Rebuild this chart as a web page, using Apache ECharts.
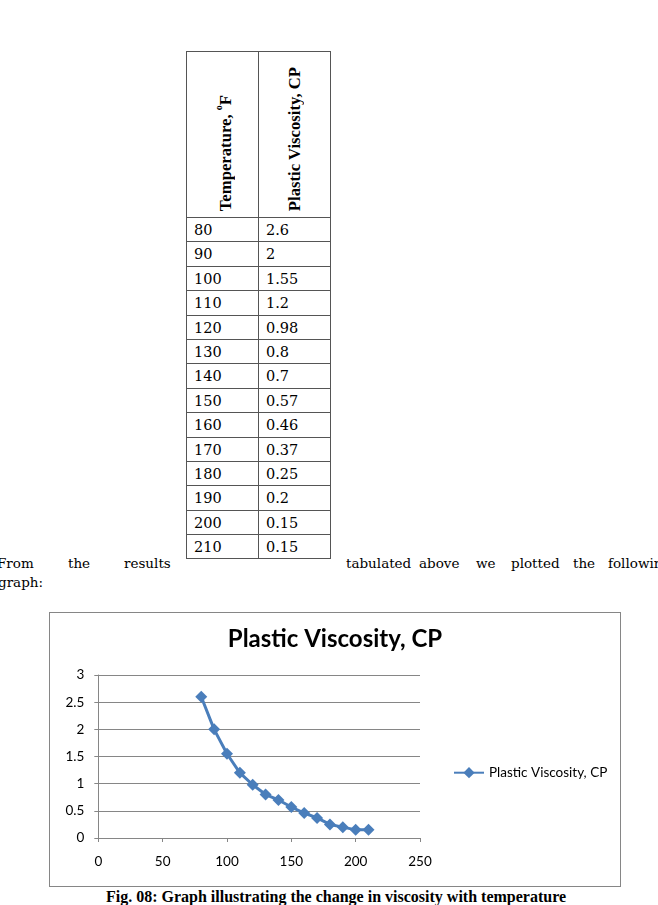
<!DOCTYPE html>
<html>
<head>
<meta charset="utf-8">
<script src="https://cdn.jsdelivr.net/npm/echarts@6/dist/echarts.min.js"></script>
<style>
  html, body { margin:0; padding:0; background:#fff; width:658px; height:905px; overflow:hidden; }
  body { position:relative; color:#000; }
  #tbl { position:absolute; left:186px; top:51px; border-collapse:collapse; table-layout:fixed; font-family:"DejaVu Serif", serif; font-size:14.5px; }
  #tbl td, #tbl th { border:1px solid #555; padding:0; }
  #tbl th { height:164px; vertical-align:bottom; text-align:center; font-family:"Liberation Serif", serif; font-weight:bold; font-size:16.7px; padding-bottom:1px; }
  #tbl th div { display:inline-block; writing-mode:vertical-rl; transform:rotate(180deg); white-space:nowrap; line-height:20px; }
  #tbl td { box-sizing:border-box; height:24.4px; padding:3px 0 0 7px; line-height:18px; vertical-align:top; }
  .w { position:absolute; font-family:"DejaVu Serif", serif; font-size:13.5px; white-space:nowrap; line-height:16px; }
  #chartbox { position:absolute; left:49px; top:612px; width:572px; height:275px; box-sizing:border-box; border:1px solid #868686; }
  #chart { width:570px; height:273px; }
  #cap { position:absolute; left:0; width:672px; top:887.6px; text-align:center; font-family:"Liberation Serif", serif; font-weight:bold; font-size:16px; line-height:18px; }
</style>
</head>
<body>
<table id="tbl">
  <colgroup><col style="width:72px"><col style="width:72px"></colgroup>
  <thead><tr><th id="h1"></th><th id="h2"></th></tr></thead>
  <tbody id="tb"></tbody>
</table>

<span class="w" style="left:-3px;top:555.3px">From</span>
<span class="w" style="left:68px;top:555.3px">the</span>
<span class="w" style="left:124px;top:555.3px">results</span>
<span class="w" style="left:346px;top:555.3px">tabulated</span>
<span class="w" style="left:419px;top:555.3px">above</span>
<span class="w" style="left:476px;top:555.3px">we</span>
<span class="w" style="left:511px;top:555.3px">plotted</span>
<span class="w" style="left:573px;top:555.3px">the</span>
<span class="w" style="left:608px;top:555.3px">following</span>
<span class="w" style="left:-2px;top:574.3px">graph:</span>

<div id="chartbox"><div id="chart"></div></div>
<div id="cap">Fig. 08: Graph illustrating the change in viscosity with temperature</div>

<script>
// ---- data ----
const temperatures = [80, 90, 100, 110, 120, 130, 140, 150, 160, 170, 180, 190, 200, 210];
const viscosity = [2.6, 2, 1.55, 1.2, 0.98, 0.8, 0.7, 0.57, 0.46, 0.37, 0.25, 0.2, 0.15, 0.15];
const tempHeader = 'Temperature, <sup style="font-size:10px">o</sup>F';
const viscHeader = 'Plastic Viscosity, CP';
const seriesName = 'Plastic Viscosity, CP';
const chartTitle = 'Plastic Viscosity, CP';

// ---- table ----
document.getElementById('h1').innerHTML = '<div>' + tempHeader + '</div>';
document.getElementById('h2').innerHTML = '<div>' + viscHeader + '</div>';
const tb = document.getElementById('tb');
temperatures.forEach((t, i) => {
  const tr = document.createElement('tr');
  const a = document.createElement('td'); a.textContent = String(t);
  const b = document.createElement('td'); b.textContent = String(viscosity[i]);
  tr.appendChild(a); tr.appendChild(b); tb.appendChild(tr);
});

// ---- chart ----
const chart = echarts.init(document.getElementById('chart'), null, {renderer:'canvas'});
const font = 'Lato';
chart.setOption({
  animation:false,
  backgroundColor:'#fff',
  title:{ text:chartTitle, left:285, top:14, textAlign:'center', padding:0,
    textStyle:{ fontFamily:font, fontWeight:'bold', fontSize:24, color:'#000' } },
  grid:{ left:48.3, top:62, width:321.7, height:163, containLabel:false },
  legend:{ left:403, top:152.7, padding:0, itemWidth:30, itemHeight:14, itemGap:5,
    textStyle:{ fontFamily:font, fontSize:13.5, color:'#000' },
    data:[seriesName] },
  xAxis:{ type:'value', min:0, max:250, interval:50,
    axisLine:{ show:true, lineStyle:{ color:'#868686', width:1 } },
    axisTick:{ show:true, length:4, lineStyle:{ color:'#868686' } },
    axisLabel:{ fontFamily:font, fontSize:13.5, color:'#000', margin:17 },
    splitLine:{ show:false } },
  yAxis:{ type:'value', min:0, max:3, interval:0.5,
    axisLine:{ show:true, lineStyle:{ color:'#868686', width:1 } },
    axisTick:{ show:true, length:4, lineStyle:{ color:'#868686' } },
    axisLabel:{ fontFamily:font, fontSize:13.5, color:'#000', margin:14 },
    splitLine:{ show:true, lineStyle:{ color:'#868686', width:1 } } },
  series:[{
    name:seriesName, type:'line',
    data: temperatures.map((t, i) => [t, viscosity[i]]),
    symbol:'diamond', symbolSize:12,
    lineStyle:{ color:'#4a7ebb', width:3 },
    itemStyle:{ color:'#4a7ebb' }
  }]
});
</script>
</body>
</html>
